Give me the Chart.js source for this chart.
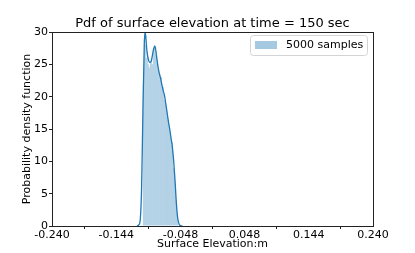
<!DOCTYPE html>
<html>
<head>
<meta charset="utf-8">
<script src="https://cdn.jsdelivr.net/npm/chart.js@4.4.1/dist/chart.umd.min.js"></script>
<style>
  body { margin: 0; background: #fff; }
</style>
</head>
<body>
<canvas id="pdf-chart" width="415" height="253"></canvas>
<script>
// histogram bins (centres) and density heights
var binCentres = [
  -0.1035, -0.1020, -0.1005, -0.0990, -0.0975, -0.0960, -0.0945, -0.0930,
  -0.0915, -0.0900, -0.0885, -0.0870, -0.0855, -0.0840, -0.0825, -0.0810,
  -0.0795, -0.0780, -0.0765, -0.0750, -0.0735, -0.0720, -0.0705, -0.0690,
  -0.0675, -0.0660, -0.0645, -0.0630, -0.0615, -0.0600, -0.0585, -0.0570,
  -0.0555, -0.0540, -0.0525
];
var binDensity = [
  22, 29, 28, 26, 27, 25, 24.5, 25.5,
  26, 25, 27.5, 28, 26.5, 27, 25, 24,
  23.5, 22.5, 23, 21, 21.5, 19.5, 19, 18,
  17, 16.5, 15, 14.5, 12.5, 13, 9, 8.5,
  6.5, 4, 2
];

// kde curve
var kdeX = [
  -0.113, -0.110, -0.108, -0.106, -0.104, -0.102, -0.101, -0.100, -0.098,
  -0.096, -0.094, -0.092, -0.090, -0.088, -0.086, -0.084, -0.082, -0.080,
  -0.078, -0.076, -0.074, -0.072, -0.070, -0.068, -0.066, -0.064, -0.062,
  -0.060, -0.058, -0.056, -0.054, -0.052, -0.050, -0.048, -0.045
];
var kdeY = [
  0, 0.2, 1, 6, 18, 28, 30, 29.5, 27,
  25.8, 25.3, 25.4, 26.3, 27.4, 27.8, 26.5, 25, 23.8,
  23, 22, 21, 20.3, 19, 17.6, 16.2, 15, 13.6,
  12.2, 10, 7, 3.5, 1.2, 0.3, 0.05, 0
];

var xTicks = [-0.240, -0.144, -0.048, 0.048, 0.144, 0.240];
var yTicks = [0, 5, 10, 15, 20, 25, 30];

var chartTitle = "Pdf of surface elevation at time = 150 sec";
var legendLabel = "5000 samples";
var barColour = "rgba(31,119,180,0.4)";
var lineColour = "#1f77b4";

Chart.defaults.font.family = "'DejaVu Sans', sans-serif";
Chart.defaults.color = "#000";

// matplotlib-like frame, title over the axes and legend in the corner
var decor = {
  id: "decor",
  afterDraw: function (chart) {
    var ctx = chart.ctx, a = chart.chartArea;
    ctx.save();
    ctx.strokeStyle = "#222";
    ctx.lineWidth = 1;
    ctx.strokeRect(Math.round(a.left) + 0.5, Math.round(a.top) + 0.5,
      Math.round(a.right - a.left), Math.round(a.bottom - a.top));

    ctx.fillStyle = "#000";
    ctx.font = "13px 'DejaVu Sans'";
    ctx.textAlign = "center";
    ctx.textBaseline = "alphabetic";
    ctx.fillText(chartTitle, (a.left + a.right) / 2, a.top - 5);

    var lx = a.right - 123, ly = a.top + 3;
    ctx.fillStyle = "rgba(255,255,255,0.8)";
    ctx.strokeStyle = "#d4d4d4";
    ctx.beginPath();
    ctx.roundRect(lx + 0.5, ly + 0.5, 117, 20, 3);
    ctx.fill();
    ctx.stroke();
    ctx.fillStyle = barColour;
    ctx.fillRect(lx + 5, ly + 6, 22, 8);
    ctx.fillStyle = "#000";
    ctx.font = "11px 'DejaVu Sans'";
    ctx.textAlign = "left";
    ctx.textBaseline = "middle";
    ctx.fillText(legendLabel, lx + 36, ly + 10.5);
    ctx.restore();
  }
};

new Chart(document.getElementById("pdf-chart"), {
  type: "bar",
  data: {
    datasets: [
      {
        type: "line",
        label: "kde",
        data: kdeX.map(function (x, i) { return { x: x, y: kdeY[i] }; }),
        borderColor: lineColour,
        borderWidth: 1.3,
        pointRadius: 0,
        cubicInterpolationMode: "monotone",
        order: 0
      },
      {
        label: legendLabel,
        data: binCentres.map(function (x, i) { return { x: x, y: binDensity[i] }; }),
        backgroundColor: barColour,
        borderWidth: 0,
        barPercentage: 0.85,
        categoryPercentage: 1,
        order: 1
      }
    ]
  },
  options: {
    responsive: false,
    animation: false,
    layout: { padding: { left: 21, right: 42, top: 32, bottom: 2 } },
    plugins: {
      legend: { display: false },
      title: { display: false },
      tooltip: { enabled: false }
    },
    scales: {
      x: {
        type: "linear",
        min: -0.24,
        max: 0.24,
        offset: false,
        afterBuildTicks: function (s) { s.ticks = xTicks.map(function (v) { return { value: v }; }); },
        afterFit: function (s) { s.height = 25; },
        ticks: {
          font: { size: 11 },
          padding: 0,
          maxRotation: 0,
          callback: function (v) { return v.toFixed(3); }
        },
        grid: { drawOnChartArea: false, tickLength: 3, color: "#222" },
        border: { display: false },
        title: { display: true, text: "Surface Elevation:m", font: { size: 11 }, padding: 0 }
      },
      y: {
        min: 0,
        max: 30,
        afterBuildTicks: function (s) { s.ticks = yTicks.map(function (v) { return { value: v }; }); },
        afterFit: function (s) { s.width = 31; },
        ticks: { font: { size: 11 }, padding: 1 },
        grid: { drawOnChartArea: false, tickLength: 3, color: "#222" },
        border: { display: false },
        title: { display: true, text: "Probability density function", font: { size: 11 }, padding: 0 }
      }
    }
  },
  plugins: [decor]
});
</script>
</body>
</html>
